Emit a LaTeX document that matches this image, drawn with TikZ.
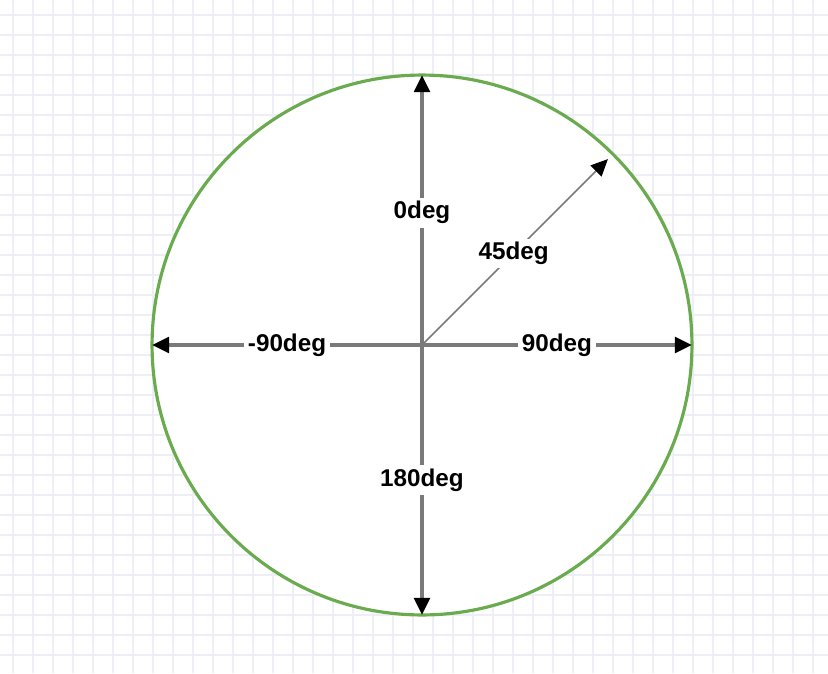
\documentclass[tikz,border=0pt]{standalone}
\usepackage{fontspec}
\setmainfont{Liberation Sans}
\usetikzlibrary{arrows.meta}
\definecolor{ringgreen}{HTML}{6AAB4F}
\definecolor{gridline}{HTML}{EEEEF6}
\definecolor{axisgray}{HTML}{7A7A7A}

\begin{document}
\begin{tikzpicture}[x=0.02cm, y=-0.02cm,
        ring/.style={circle, draw=ringgreen, fill=white, line width=1.8pt, outer sep=0pt, minimum size=10.8cm, inner sep=0pt},
        axis/.style={draw=axisgray, line width=2pt, -{Triangle[length=0.34cm, width=0.31cm, color=black]}},
        diag/.style={axis, line width=0.9pt},
        lbl/.style={fill=white, inner sep=2pt, font=\fontsize{13.8pt}{16pt}\selectfont\bfseries}]
    \useasboundingbox (0,0) rectangle (828,673);
    % background grid
    \foreach \gx in {13,33,...,813}
        \draw[gridline, line width=0.6pt] (\gx,0) -- (\gx,673);
    \foreach \gy in {15,35,...,655}
        \draw[gridline, line width=0.6pt] (0,\gy) -- (828,\gy);
    % dial
    \node[ring] (dial) at (422,345) {};
    \coordinate (o) at (422,345);
    % directions
    \draw[axis] (o) -- (dial.north) node[lbl, pos=0.49] {0deg};
    \draw[axis] (o) -- (dial.east) node[lbl, midway] {90deg};
    \draw[axis] (o) -- (dial.south) node[lbl, midway] {180deg};
    \draw[axis] (o) -- (dial.west) node[lbl, midway] {-90deg};
    \draw[diag, shorten >=0.14cm] (o) -- (dial.45) node[lbl, pos=0.48] {45deg};
\end{tikzpicture}
\end{document}
